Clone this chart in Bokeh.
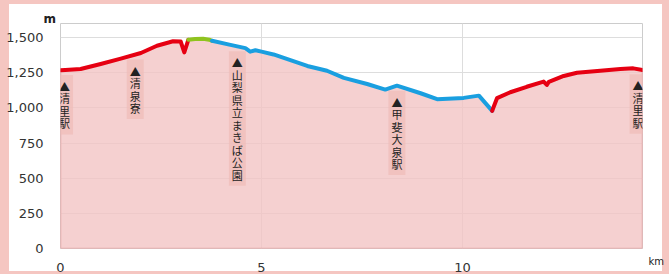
import numpy as np
from bokeh.plotting import figure
from bokeh.models import NumeralTickFormatter, FixedTicker, LinearAxis, Range1d, ColumnDataSource
from bokeh.core.properties import value
from bokeh.embed import file_html
from bokeh.resources import INLINE

# ---- data ----
dist_km = [0.0, 0.12, 0.5, 1.0, 1.5, 2.0, 2.4, 2.8, 2.99, 3.08, 3.18,
           3.35, 3.55, 3.7, 3.77,
           4.2, 4.6, 4.72, 4.85, 5.0, 5.3, 5.72, 6.14, 6.63, 7.05, 7.63, 8.08, 8.37,
           8.96, 9.37, 10.03, 10.41, 10.74,
           10.86, 11.19, 11.6, 12.02, 12.1, 12.15, 12.52, 12.85, 13.43, 13.93, 14.25, 14.48]
elev_m = [1267, 1270, 1276, 1312, 1350, 1390, 1442, 1474, 1472, 1395, 1484,
          1490, 1491, 1485, 1477,
          1450, 1425, 1400, 1410, 1400, 1380, 1340, 1298, 1264, 1213, 1170, 1130, 1158,
          1104, 1062, 1071, 1087, 979,
          1069, 1111, 1150, 1187, 1163, 1185, 1227, 1250, 1264, 1276, 1281, 1269]
seg_breaks_km = [0.0, 3.18, 3.77, 10.74, 14.48]
seg_colors = ["#e60012", "#8fc31f", "#1a9fe0", "#e60012"]

station_km = [0.1, 1.86, 4.4, 8.37, 14.37]
station_names = ["清里駅", "清泉寮", "山梨県立まきば公園", "甲斐大泉駅", "清里駅"]

y_ticks = [0, 250, 500, 750, 1000, 1250, 1500]
x_ticks = [0, 5, 10]

p = figure(width=669, height=274, output_backend="svg", toolbar_location=None,
           x_range=Range1d(0, 14.48), y_range=Range1d(0, 1600),
           min_border_left=60, min_border_right=27, min_border_top=23, min_border_bottom=25)
p.background_fill_color = "white"
p.border_fill_color = None
p.styles = {"background-color": "white",
            "box-shadow": "inset 9px 4px 0 0 #f5c6c1, inset -7px -3px 0 0 #f5c6c1"}
p.outline_line_color = "#cccccc"
p.outline_line_width = 1

# "m" unit label via the title
p.title.text = "m"
p.title.align = "left"
p.title.offset = -17
p.title.standoff = -4
p.title.text_font = "DejaVu Sans"
p.title.text_font_size = "12px"
p.title.text_font_style = "bold"
p.title.text_color = "#222222"

p.xgrid.ticker = FixedTicker(ticks=x_ticks)
p.ygrid.ticker = FixedTicker(ticks=y_ticks)
p.xgrid.grid_line_color = "#dddddd"
p.ygrid.grid_line_color = "#dddddd"
p.xaxis.ticker = FixedTicker(ticks=x_ticks)
p.yaxis.ticker = FixedTicker(ticks=y_ticks)
p.yaxis.formatter = NumeralTickFormatter(format="0,0")
for ax in (p.xaxis[0], p.yaxis[0]):
    ax.axis_line_color = None
    ax.major_tick_line_color = None
    ax.minor_tick_line_color = None
    ax.major_label_text_font = "DejaVu Sans"
    ax.major_label_text_font_size = "13px"
    ax.major_label_text_color = "#333333"
p.yaxis.major_label_standoff = 11
p.xaxis.major_label_standoff = 8

# "km" unit label: a right-hand axis with a single relabelled tick at the bottom,
# pushed down into the tick-label row with blank leading lines
km_axis = LinearAxis(ticker=FixedTicker(ticks=[0]), major_label_overrides={0: "\n\nkm"},
                     axis_line_color=None, major_tick_line_color=None,
                     minor_tick_line_color=None, major_label_standoff=0,
                     major_label_text_font="DejaVu Sans", major_label_text_font_size="10px",
                     major_label_text_color="#222222", major_label_text_align="left")
p.add_layout(km_axis, "right")

# area fill
px = [dist_km[0]] + dist_km + [dist_km[-1]]
py = [0] + elev_m + [0]
p.patch(px, py, fill_color="#f2c4c4", fill_alpha=0.8, line_color="#eaa6a6", line_width=1.5)

# coloured course segments
d = np.array(dist_km)
e = np.array(elev_m)
for i, c in enumerate(seg_colors):
    lo, hi = seg_breaks_km[i], seg_breaks_km[i + 1]
    m = (d >= lo - 1e-9) & (d <= hi + 1e-9)
    p.line(d[m], e[m], line_color=c, line_width=4, line_join="round", line_cap="round")

# station labels (vertical text)
st_y = np.interp(station_km, dist_km, elev_m)
src = ColumnDataSource(dict(x=station_km, y=st_y,
                            t=["\n".join("▲" + n) for n in station_names]))
p.text("x", "y", text="t", source=src, text_align="center", text_baseline="top",
       y_offset=5, text_font=value("Noto Sans CJK JP"), text_font_size="11px",
       text_line_height=0.78, text_color="#222222",
       background_fill_color="#efbcb8", background_fill_alpha=0.7, padding=3)

open("out.html", "w").write(file_html(p, INLINE))
